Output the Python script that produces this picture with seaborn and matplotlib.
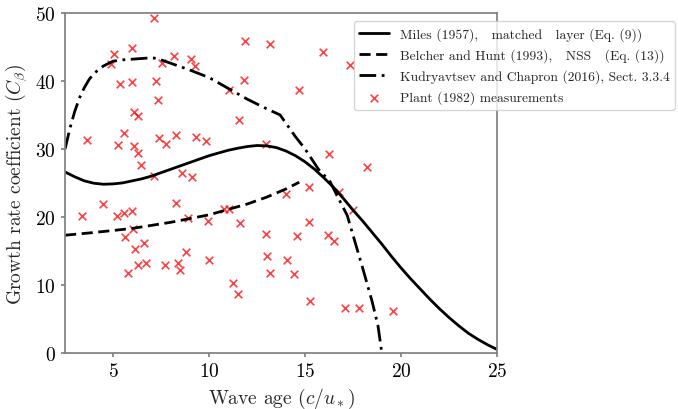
import numpy as np
import pandas as pd
import matplotlib
matplotlib.use("Agg")
import matplotlib.pyplot as plt
import seaborn as sns

# Miles (1957) matched layer
miles_x = [2.5, 3.0, 3.5, 4.0, 4.5, 5.0, 5.5, 6.0, 6.5, 7.0, 7.5, 8.0, 8.5, 9.0, 9.5,
           10.0, 10.5, 11.0, 11.5, 12.0, 12.5, 13.0, 13.5, 14.0, 14.5, 15.0, 15.5,
           16.0, 16.5, 17.0, 17.5, 18.0, 18.5, 19.0, 19.5, 20.0, 20.5, 21.0, 21.5,
           22.0, 22.5, 23.0, 23.5, 24.0, 24.5, 25.0]
miles_y = [26.6, 25.9, 25.3, 24.95, 24.8, 24.85, 25.0, 25.3, 25.6, 26.0, 26.5, 27.0, 27.5,
           28.0, 28.5, 29.0, 29.4, 29.8, 30.1, 30.35, 30.5, 30.45, 30.2, 29.7, 29.0, 28.1,
           27.0, 25.7, 24.3, 22.7, 21.0, 19.4, 17.7, 16.0, 14.2, 12.5, 10.9, 9.4, 7.9,
           6.5, 5.2, 4.0, 2.9, 2.0, 1.2, 0.5]

# Belcher and Hunt (1993) NSS
bh_x = [2.5, 4.0, 6.0, 8.0, 10.0, 12.0, 13.0, 14.0, 14.7]
bh_y = [17.3, 17.7, 18.3, 19.2, 20.3, 21.9, 22.9, 24.1, 25.1]

# Kudryavtsev and Chapron (2016)
kc_x = [2.5, 2.75, 3.0, 3.25, 3.5, 3.75, 4.0, 4.5, 5.0, 5.5, 6.0, 6.5, 7.0, 7.3, 8.0, 9.0,
        10.0, 11.0, 12.0, 13.0, 13.7, 14.5, 15.0, 15.7, 16.3, 17.2, 18.0, 18.5, 18.8, 19.0]
kc_y = [30.0, 33.0, 35.5, 37.5, 39.0, 40.2, 41.1, 42.2, 42.9, 43.1, 43.2, 43.3, 43.4, 43.3,
        42.6, 41.6, 40.5, 38.9, 37.3, 35.9, 35.0, 31.8, 30.0, 27.0, 25.2, 20.2, 12.5, 7.5,
        4.0, 0.0]

# Plant (1982) measurements
plant_x = [7.15, 5.07, 6.0, 4.9, 8.19, 9.05, 9.27, 7.57, 5.35, 6.0, 7.22, 7.33, 11.04,
           6.11, 6.32, 3.65, 5.56, 5.24, 6.09, 6.32, 6.44, 7.41, 7.74, 8.28, 9.31, 9.83,
           7.15, 8.58, 9.13, 4.5, 3.4, 5.19, 5.57, 5.97, 8.28, 8.92, 9.93, 10.8, 11.06,
           6.06, 5.64, 6.6, 6.16, 8.8, 6.3, 6.72, 7.72, 8.39, 8.49, 9.98, 5.8, 11.27,
           11.88, 13.18, 15.92, 17.34, 11.82, 14.67, 11.55, 12.97, 16.23, 18.21,
           15.22, 13.99, 16.79, 17.52, 11.6, 12.95, 14.57, 15.2, 16.21, 16.5, 13.02,
           14.05, 13.16, 14.44, 11.53, 15.26, 17.1, 17.83, 19.58]
plant_y = [49.2, 44.0, 44.9, 42.5, 43.6, 43.2, 42.2, 42.7, 39.6, 39.8, 40.0, 37.25, 38.6,
           35.4, 34.9, 31.3, 32.35, 30.6, 30.4, 29.4, 27.7, 31.6, 30.7, 32.06, 31.7, 31.1,
           26.0, 26.5, 25.9, 21.96, 20.1, 20.15, 20.6, 20.9, 22.1, 19.85, 19.46, 21.2, 21.2,
           18.2, 17.0, 16.2, 15.3, 14.85, 12.99, 13.2, 12.9, 13.2, 12.25, 13.7, 11.7, 10.3,
           45.8, 45.4, 44.2, 42.4, 40.2, 38.6, 34.3, 30.7, 29.3, 27.3,
           24.4, 23.3, 23.7, 21.0, 19.07, 17.45, 17.16, 19.2, 17.4, 16.4, 14.3,
           13.7, 11.76, 11.6, 8.7, 7.6, 6.6, 6.6, 6.2]

sns.set_theme(style="ticks")
plt.rcParams["font.family"] = ["cmr10", "DejaVu Serif"]
plt.rcParams["mathtext.fontset"] = "cm"
plt.rcParams["axes.formatter.use_mathtext"] = True
plt.rcParams["axes.edgecolor"] = "#808080"
plt.rcParams["xtick.color"] = "#808080"
plt.rcParams["ytick.color"] = "#808080"
plt.rcParams["xtick.labelcolor"] = "black"
plt.rcParams["ytick.labelcolor"] = "black"

fig = plt.figure(figsize=(6.78, 4.10), dpi=100)
ax = fig.add_axes([0.096, 0.137, 0.637, 0.829])

sns.lineplot(x=miles_x, y=miles_y, ax=ax, color="black", lw=2, linestyle="-",
             label="Miles (1957),   matched   layer (Eq. (9))")
sns.lineplot(x=bh_x, y=bh_y, ax=ax, color="black", lw=2, linestyle=(0, (4, 2)),
             label="Belcher and Hunt (1993),   NSS   (Eq. (13))")
sns.lineplot(x=kc_x, y=kc_y, ax=ax, color="black", lw=2, linestyle=(0, (6, 2, 1, 2)),
             label="Kudryavtsev and Chapron (2016), Sect. 3.3.4")
sns.scatterplot(x=plant_x, y=plant_y, ax=ax, marker="x", color="red", s=30,
                linewidth=1.2, alpha=0.75, label="Plant (1982) measurements")

ax.set_xlim(2.5, 25)
ax.set_ylim(0, 50)
ax.set_xticks([5, 10, 15, 20, 25])
ax.set_yticks([0, 10, 20, 30, 40, 50])
ax.tick_params(labelsize=14, length=3)
ax.set_xlabel(r"Wave age ($c/u_*$)", fontsize=14)
ax.set_ylabel(r"Growth rate coefficient ($C_\beta$)", fontsize=14)

leg = ax.legend(loc="upper left", bbox_to_anchor=(0.668, 0.975), fontsize=9.8,
                framealpha=0.8, handlelength=2.2, borderaxespad=0, labelspacing=0.55)
leg.set_clip_on(False)

fig.savefig("out.png", dpi=100)
